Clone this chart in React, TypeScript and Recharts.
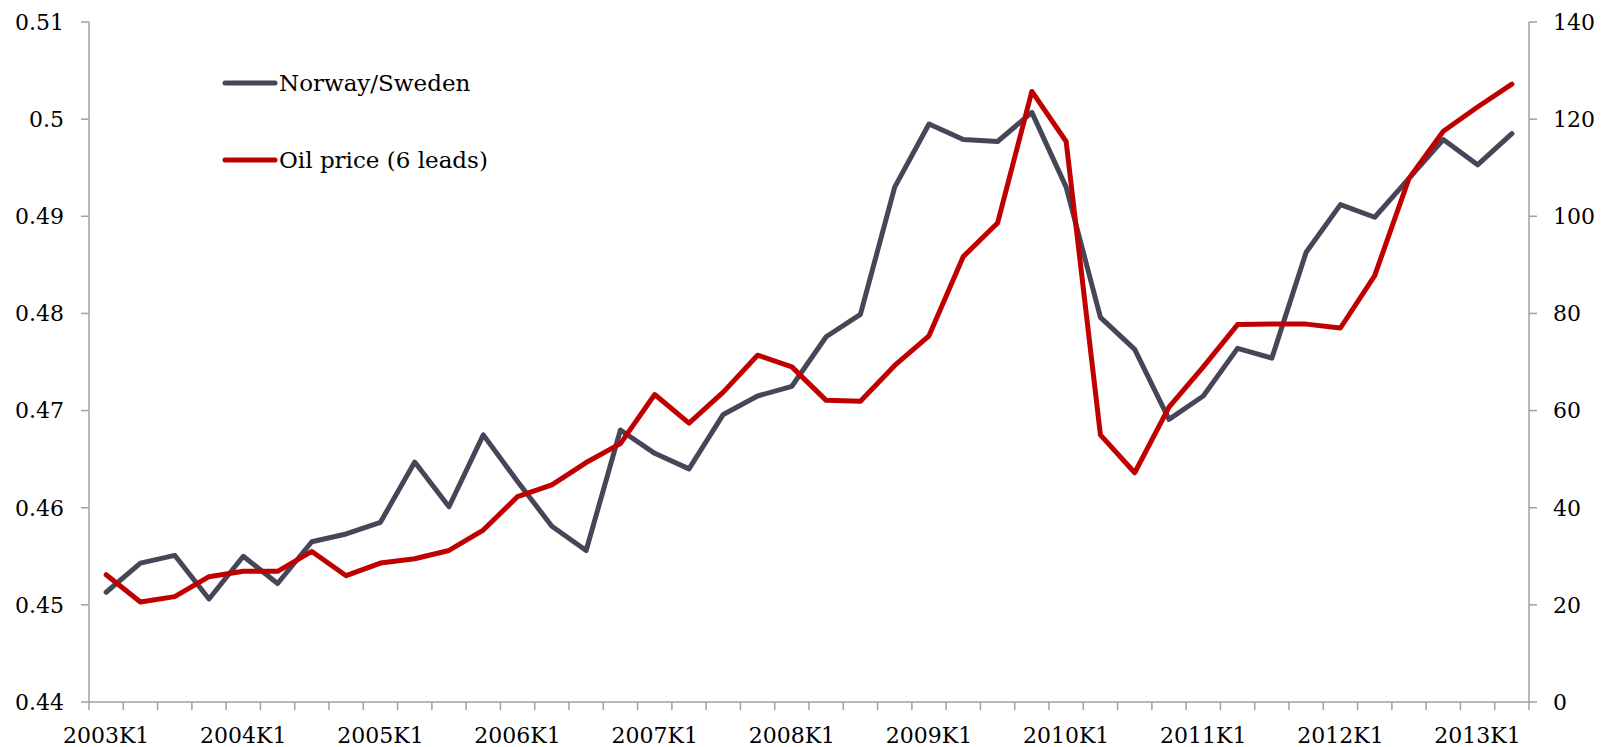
import { LineChart, Line, XAxis, YAxis } from 'recharts';

const quarters = [
  '2003K1', '2003K2', '2003K3', '2003K4', '2004K1', '2004K2', '2004K3', '2004K4',
  '2005K1', '2005K2', '2005K3', '2005K4', '2006K1', '2006K2', '2006K3', '2006K4',
  '2007K1', '2007K2', '2007K3', '2007K4', '2008K1', '2008K2', '2008K3', '2008K4',
  '2009K1', '2009K2', '2009K3', '2009K4', '2010K1', '2010K2', '2010K3', '2010K4',
  '2011K1', '2011K2', '2011K3', '2011K4', '2012K1', '2012K2', '2012K3', '2012K4',
  '2013K1', '2013K2',
];

// left axis
const norwaySweden = [
  0.4513, 0.4543, 0.4551, 0.4506, 0.455, 0.4522, 0.4565, 0.4573, 0.4585, 0.4647,
  0.4601, 0.4675, 0.4627, 0.4581, 0.4556, 0.468, 0.4656, 0.464, 0.4696, 0.4715,
  0.4725, 0.4776, 0.4799, 0.493, 0.4995, 0.4979, 0.4977, 0.5007, 0.493, 0.4796,
  0.4763, 0.4691, 0.4715, 0.4764, 0.4754, 0.4863, 0.4912, 0.4899, 0.4939, 0.4979,
  0.4953, 0.4985,
];

// right axis
const oilPrice = [
  26.2, 20.6, 21.7, 25.8, 26.9, 26.9, 31.0, 26.0, 28.6, 29.5,
  31.2, 35.4, 42.3, 44.7, 49.3, 53.2, 63.3, 57.4, 63.8, 71.4,
  69.0, 62.1, 61.9, 69.3, 75.4, 91.7, 98.6, 125.7, 115.4, 55.0,
  47.2, 60.7, 69.0, 77.7, 77.8, 77.8, 77.0, 87.8, 107.8, 117.5,
  122.5, 127.2,
];

const leftTicks = [0.44, 0.45, 0.46, 0.47, 0.48, 0.49, 0.5, 0.51];
const rightTicks = [0, 20, 40, 60, 80, 100, 120, 140];

const FONT = '"DejaVu Serif", serif';
const AXIS = '#a0a0a0';
const GREY_LINE = '#454759';
const RED_LINE = '#c00000';

const data = quarters.map((q, i) => ({ x: i + 0.5, q, norway: norwaySweden[i], oil: oilPrice[i] }));
// tick marks sit between the quarters, labels on every 4th quarter
const boundaryTicks = quarters.map((_, i) => i).concat(quarters.length);
const labelTicks = quarters.map((_, i) => i + 0.5).filter((_, i) => i % 4 === 0);

const tickStyle = { fill: '#000', fontSize: 22, fontFamily: FONT };

const legendItems = [
  { label: 'Norway/Sweden', color: GREY_LINE },
  { label: 'Oil price (6 leads)', color: RED_LINE },
];

function LegendBox() {
  return (
    <div style={{ position: 'absolute', left: 222, top: 63, fontFamily: FONT, fontSize: 23, color: '#000' }}>
      {legendItems.map((it, i) => (
        <div key={it.label} style={{ display: 'flex', alignItems: 'center', height: 40, marginTop: i === 0 ? 0 : 37 }}>
          <svg width={56} height={10}>
            <line x1={3} y1={5} x2={53} y2={5} stroke={it.color} strokeWidth={5} strokeLinecap="round" />
          </svg>
          <span style={{ marginLeft: 1, whiteSpace: 'nowrap' }}>{it.label}</span>
        </div>
      ))}
    </div>
  );
}

export default function App() {
  return (
    <div style={{ position: 'absolute', left: 0, top: 0, width: 1610, height: 747, background: '#fff' }}>
      <LineChart width={1610} height={747} data={data} margin={{ top: 22, right: 0, bottom: 0, left: 0 }} style={{ fontFamily: FONT }}>
        {/* axis line + tick marks between quarters */}
        <XAxis
          xAxisId="a"
          type="number"
          dataKey="x"
          domain={[0, quarters.length]}
          ticks={boundaryTicks}
          interval={0}
          tickFormatter={() => ''}
          tickSize={8}
          height={10}
          stroke={AXIS}
          strokeWidth={1.5}
        />
        {/* year labels below */}
        <XAxis
          xAxisId="b"
          type="number"
          dataKey="x"
          domain={[0, quarters.length]}
          ticks={labelTicks}
          interval={0}
          tickFormatter={(v: number) => quarters[Math.floor(v)]}
          axisLine={false}
          tickLine={false}
          tickSize={0}
          tickMargin={15}
          height={35}
          tick={tickStyle}
        />
        <YAxis
          yAxisId="l"
          domain={[0.44, 0.51]}
          ticks={leftTicks}
          interval={0}
          width={89}
          tickSize={8}
          tickMargin={17}
          stroke={AXIS}
          strokeWidth={1.5}
          tick={tickStyle}
        />
        <YAxis
          yAxisId="r"
          orientation="right"
          domain={[0, 140]}
          ticks={rightTicks}
          interval={0}
          width={81}
          tickSize={8}
          tickMargin={16}
          stroke={AXIS}
          strokeWidth={1.5}
          tick={tickStyle}
        />
        <Line xAxisId="a" yAxisId="l" type="linear" dataKey="norway" stroke={GREY_LINE} strokeWidth={5} strokeLinejoin="round" strokeLinecap="round" dot={false} activeDot={false} isAnimationActive={false} />
        <Line xAxisId="a" yAxisId="r" type="linear" dataKey="oil" stroke={RED_LINE} strokeWidth={5} strokeLinejoin="round" strokeLinecap="round" dot={false} activeDot={false} isAnimationActive={false} />
      </LineChart>
      <LegendBox />
    </div>
  );
}
